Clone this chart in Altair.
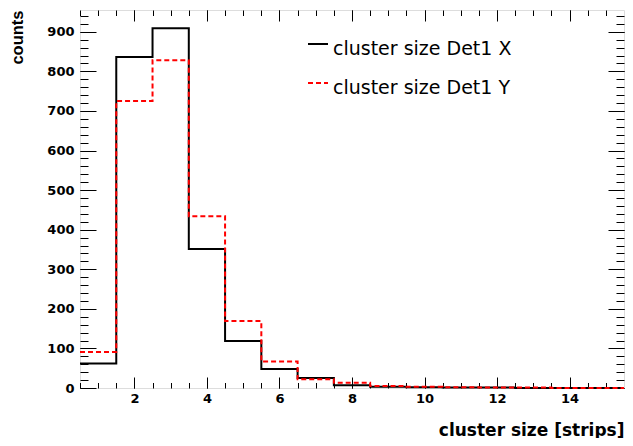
import altair as alt
import pandas as pd

# bin centres (cluster size in strips), bin width 1
bins = [1, 2, 3, 4, 5, 6, 7, 8, 9, 10, 11, 12, 13, 14, 15]
x_counts = [62, 836, 909, 351, 119, 48, 25, 7, 3, 2, 1, 1, 0, 0, 0]
y_counts = [91, 725, 828, 434, 169, 67, 22, 13, 5, 3, 2, 1, 1, 0, 0]
series = ["cluster size Det1 X", "cluster size Det1 Y"]

x_major = [2, 4, 6, 8, 10, 12, 14]
x_minor = [0.5, 1, 1.5, 2, 2.5, 3, 3.5, 4, 4.5, 5, 5.5, 6, 6.5, 7, 7.5, 8, 8.5,
           9, 9.5, 10, 10.5, 11, 11.5, 12, 12.5, 13, 13.5, 14, 14.5, 15]
y_major = [0, 100, 200, 300, 400, 500, 600, 700, 800, 900]
y_minor = [v for v in range(0, 960, 20)]

rows = []
for name, vals in zip(series, [x_counts, y_counts]):
    for b, v in zip(bins, vals):
        rows.append({"edge": b - 0.5, "counts": v, "series": name})
    rows.append({"edge": bins[-1] + 0.5, "counts": vals[-1], "series": name})
df = pd.DataFrame(rows)

xs = alt.Scale(domain=[0.5, 15.5], nice=False, zero=False)
ys = alt.Scale(domain=[0, 955], nice=False, zero=True)

TICK_FONT = "DejaVu Sans"
PLOT_W = 544


def tick_axis(orient, values, size, labels=False, **kw):
    return alt.Axis(
        orient=orient, values=values, tickSize=alt.ExprRef(expr=str(-size)),
        tickColor="black", tickWidth=1, domain=False, grid=False,
        labels=labels, **kw)


x_main = tick_axis(
    "bottom", x_major, 11, labels=True, labelPadding=11 + 4,
    labelFont=TICK_FONT, labelFontWeight="bold", labelFontSize=13,
    labelColor="black", labelFlush=False,
    title="cluster size [strips]", titleFont=TICK_FONT,
    titleFontWeight="bold", titleFontSize=17, titleColor="black",
    titleAlign="right", titleBaseline="alphabetic", titleX=PLOT_W, titleY=47)
y_main = tick_axis(
    "left", y_major, 16, labels=True, labelPadding=16 + 6,
    labelFont=TICK_FONT, labelFontWeight="bold", labelFontSize=13,
    labelColor="black", labelFlush=False,
    title="counts", titleFont="Liberation Sans", titleFontWeight="bold",
    titleFontSize=16.5, titleColor="black", titleAngle=270,
    titleAlign="right", titleBaseline="middle", titleX=-63, titleY=0)

legend = alt.Legend(
    title=None, orient="none", legendX=227, legendY=28,
    symbolType="M-1,-0.5L1,-0.5", symbolSize=400, symbolStrokeWidth=2,
    labelFont="DejaVu Sans", labelFontSize=19, labelColor="black",
    rowPadding=18, labelOffset=4, labelLimit=0)

main = alt.Chart(df).mark_line(interpolate="step-after", strokeWidth=2).encode(
    x=alt.X("edge:Q", scale=xs, axis=x_main),
    y=alt.Y("counts:Q", scale=ys, axis=y_main),
    color=alt.Color("series:N", scale=alt.Scale(domain=series, range=["black", "red"]), legend=legend),
    strokeDash=alt.StrokeDash("series:N", scale=alt.Scale(domain=series, range=[[1, 0], [5, 3]]), legend=legend),
)


def ghost(xa, ya):
    return alt.Chart(df).mark_line(opacity=0).encode(
        x=alt.X("edge:Q", scale=xs, axis=xa),
        y=alt.Y("counts:Q", scale=ys, axis=ya),
        detail="series:N",
    )


layers = [
    ghost(tick_axis("bottom", x_minor, 5.5, title=None), tick_axis("left", y_minor, 8, title=None)),
    ghost(tick_axis("top", x_major, 11, title=None), tick_axis("right", y_major, 16, title=None)),
    ghost(tick_axis("top", x_minor, 5.5, title=None), tick_axis("right", y_minor, 8, title=None)),
    main,
]

chart = alt.layer(*layers).resolve_axis(x="independent", y="independent").properties(
    width=PLOT_W, height=378,
    padding={"left": 72, "top": 2, "right": 1, "bottom": 50},
    autosize=alt.AutoSizeParams(type="none"),
).configure_view(stroke="black", strokeWidth=1).configure(background="white")

chart.save("out.html", embed_options={"renderer": "svg", "actions": False})
